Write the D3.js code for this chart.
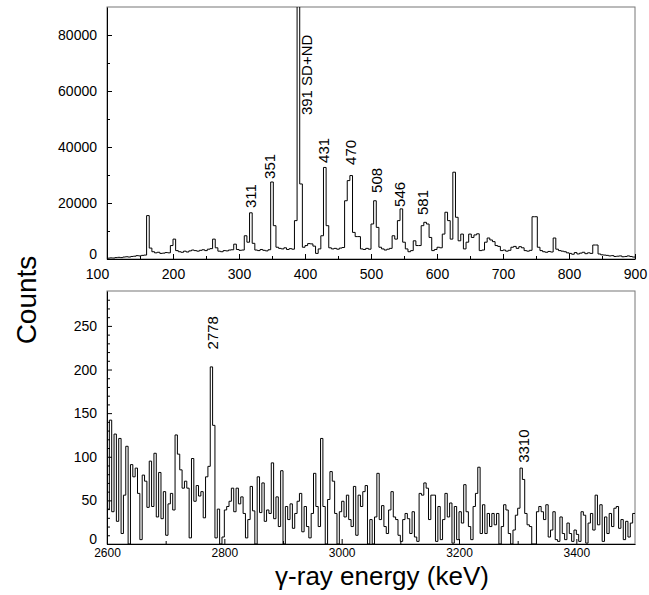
<!DOCTYPE html>
<html>
<head>
<meta charset="utf-8">
<script src="https://cdn.jsdelivr.net/npm/d3@7"></script>
<style>
  body { margin: 0; background: #fff; }
  svg { display: block; font-family: "Liberation Sans", Arial, Helvetica, sans-serif; }
</style>
</head>
<body>
<div id="chart"></div>
<script>
// ---- data ----
// upper spectrum: 4 keV bins from 100 keV
const topStart = 100;
const topBin = 4;
const topCounts = [
  300, 400, 350, 500, 600, 500, 700, 800, 700, 900,
  1000, 1200, 1100, 1300, 1400, 15500, 3900, 2600, 2200, 2400,
  2000, 2100, 2300, 2200, 4800, 7100, 3000, 2600, 2400, 2800,
  2500, 2900, 3200, 3000, 2800, 3100, 3300, 3000, 3500, 3700,
  7100, 4000, 2800, 2600, 3000, 2900, 3200, 3300, 5300, 3400,
  3100, 3200, 8300, 6000, 16500, 5600, 3200, 3000, 3400, 3100,
  2900, 3300, 27500, 11900, 4200, 3800, 3600, 4000, 3400, 3700,
  3500, 13700, 150000, 26800, 4200, 4800, 5500, 5400, 4600, 2000,
  3600, 8300, 32700, 11900, 4000, 3600, 3800, 3500, 3900, 4100,
  20800, 28000, 29800, 9500, 8000, 8000, 3600, 3400, 3800, 3500,
  12500, 20800, 11300, 4200, 3600, 3200, 3500, 3800, 8300, 7100,
  13700, 17900, 6000, 3600, 2600, 3000, 6500, 4800, 4800, 11900,
  13100, 12500, 7700, 3000, 3400, 4200, 4000, 8900, 16700, 13700,
  7100, 31000, 14900, 6500, 8900, 3600, 6000, 8900, 7700, 8600,
  9000, 3000, 3200, 6000, 7500, 6800, 6200, 4800, 4500, 3000,
  3200, 2800, 3100, 4200, 4500, 3800, 4400, 4000, 3000, 2800,
  3100, 15100, 15100, 4200, 3000, 2600, 2400, 2700, 2500, 7500,
  3500, 3000, 2800, 2600, 2200, 2000, 1700, 2300, 1800, 2100,
  2400, 1900, 2200, 2000, 5000, 5000, 1800, 1500, 1400, 1300,
  1100, 1200, 900, 1000, 1100, 800, 900, 1100, 900, 700
];

// lower spectrum: 4 keV bins from 2600 keV
const botStart = 2600;
const botBin = 4;
const botCounts = [
  40, 142, 37, 126, 26, 121, 12, 56, 112, 0,
  91, 77, 87, 58, 5, 79, 72, 42, 95, 43,
  104, 31, 82, 29, 60, 10, 46, 58, 39, 125,
  103, 85, 64, 72, 64, 7, 98, 49, 67, 55,
  60, 30, 77, 89, 203, 136, 7, 40, 0, 8,
  39, 43, 49, 64, 37, 64, 46, 54, 35, 7,
  28, 66, 38, 0, 77, 36, 70, 26, 39, 35,
  93, 29, 54, 20, 84, 0, 43, 28, 46, 18,
  35, 49, 58, 14, 43, 20, 7, 35, 81, 43,
  20, 121, 43, 0, 51, 83, 72, 35, 0, 37,
  49, 31, 56, 28, 20, 66, 10, 56, 43, 60,
  67, 0, 28, 0, 31, 81, 28, 44, 20, 12,
  39, 60, 31, 28, 10, 3, 28, 35, 29, 12,
  37, 8, 3, 58, 56, 70, 64, 28, 56, 56,
  3, 43, 5, 28, 58, 31, 47, 1, 43, 5,
  37, 24, 68, 37, 20, 5, 43, 58, 88, 12,
  45, 12, 35, 20, 35, 22, 35, 0, 20, 45,
  39, 12, 0, 16, 33, 41, 87, 74, 35, 22,
  20, 0, 0, 37, 43, 37, 28, 45, 8, 16,
  37, 5, 3, 31, 12, 5, 24, 12, 3, 16,
  11, 3, 37, 33, 1, 24, 35, 16, 56, 22,
  45, 3, 31, 12, 35, 20, 41, 43, 18, 28,
  5, 26, 8, 24, 35
];

const topXTicks = [100, 200, 300, 400, 500, 600, 700, 800, 900];
const topYTicks = [0, 20000, 40000, 60000, 80000];
const botXTicks = [2600, 2800, 3000, 3200, 3400];
const botYTicks = [0, 50, 100, 150, 200, 250];

// peak labels: text, energy and count where the label starts
const topPeakText = ["311", "351", "391 SD+ND", "431", "470", "508", "546", "581"];
const topPeakE = [318, 347, 402, 428, 470, 508, 544, 578];
const topPeakC = [18200, 28600, 51400, 34300, 33600, 23600, 18600, 15700];
const botPeakText = ["2778", "3310"];
const botPeakE = [2780, 3310];
const botPeakC = [223, 93];

// ---- drawing ----
const W = 649, H = 595;
const left = 107, right = 635;

const svg = d3.select("#chart").append("svg")
  .attr("width", W)
  .attr("height", H);

function panel(cfg) {
  const x = d3.scaleLinear().domain(cfg.xDomain).range([left, right]);
  const y = d3.scaleLinear().domain(cfg.yDomain).range([cfg.bottom, cfg.top]);
  const g = svg.append("g");

  g.append("clipPath").attr("id", "clip-" + cfg.name)
    .append("rect")
    .attr("x", left).attr("y", cfg.top)
    .attr("width", right - left).attr("height", cfg.bottom - cfg.top);

  // frame
  g.append("rect")
    .attr("x", left).attr("y", cfg.top)
    .attr("width", right - left).attr("height", cfg.bottom - cfg.top)
    .attr("fill", "none")
    .attr("stroke", "#777")
    .attr("stroke-width", 1);

  // histogram as a step line
  const pts = cfg.counts.map((c, i) => [cfg.start + i * cfg.bin, c]);
  pts.push([cfg.start + cfg.counts.length * cfg.bin, cfg.counts[cfg.counts.length - 1]]);
  const line = d3.line()
    .x(d => x(d[0]))
    .y(d => y(d[1]))
    .curve(d3.curveStepAfter);
  g.append("path")
    .attr("clip-path", "url(#clip-" + cfg.name + ")")
    .attr("d", line(pts))
    .attr("fill", "none")
    .attr("stroke", "#000")
    .attr("stroke-width", 1);

  // minor ticks
  g.append("g")
    .attr("transform", "translate(0," + cfg.bottom + ")")
    .call(d3.axisBottom(x).tickValues(cfg.xMinor).tickSize(-3).tickFormat(""))
    .call(a => a.select(".domain").remove());
  g.append("g")
    .attr("transform", "translate(" + left + ",0)")
    .call(d3.axisLeft(y).tickValues(cfg.yMinor).tickSize(-3).tickFormat(""))
    .call(a => a.select(".domain").remove());

  // main axes
  const xa = g.append("g")
    .attr("transform", "translate(0," + cfg.bottom + ")")
    .call(d3.axisBottom(x).tickValues(cfg.xTicks).tickSizeInner(-5).tickSizeOuter(0)
      .tickPadding(cfg.xPad).tickFormat(d3.format("d")));
  xa.selectAll("text")
    .attr("font-size", cfg.xFont)
    .attr("font-family", "Liberation Sans, Arial, sans-serif")
    .attr("fill", "#000")
    .attr("dx", (d, i) => (cfg.name === "top" && i === 0) ? -10 : 0);

  const ya = g.append("g")
    .attr("transform", "translate(" + left + ",0)")
    .call(d3.axisLeft(y).tickValues(cfg.yTicks).tickSizeInner(-5).tickSizeOuter(0)
      .tickPadding(10).tickFormat(d3.format("d")));
  ya.selectAll("text")
    .attr("font-size", 14)
    .attr("font-family", "Liberation Sans, Arial, sans-serif")
    .attr("fill", "#000")
    .attr("dy", d => d === 0 ? "-0.05em" : "0.32em");

  g.selectAll(".domain").attr("stroke", "#000");
  g.selectAll(".tick line").attr("stroke", "#000");

  // peak labels
  g.selectAll("text.peak")
    .data(cfg.peakText)
    .join("text")
    .attr("class", "peak")
    .attr("transform", (d, i) => "translate(" + x(cfg.peakE[i]) + "," + y(cfg.peakC[i]) + ") rotate(-90)")
    .attr("dy", "0.35em")
    .attr("font-size", 15)
    .attr("fill", "#000")
    .text(d => d);
}

panel({
  name: "top",
  counts: topCounts, start: topStart, bin: topBin,
  xDomain: [100, 900], yDomain: [0, 90000],
  top: 7, bottom: 259,
  xTicks: topXTicks, yTicks: topYTicks,
  xMinor: d3.range(150, 900, 100), yMinor: d3.range(10000, 90000, 20000),
  xPad: 10, xFont: 14,
  peakText: topPeakText, peakE: topPeakE, peakC: topPeakC
});

panel({
  name: "bot",
  counts: botCounts, start: botStart, bin: botBin,
  xDomain: [2600, 3500], yDomain: [0, 290],
  top: 291, bottom: 544,
  xTicks: botXTicks, yTicks: botYTicks,
  xMinor: d3.range(2700, 3500, 200), yMinor: d3.range(10, 290, 10).filter(v => v % 50 !== 0),
  xPad: 4, xFont: 12,
  peakText: botPeakText, peakE: botPeakE, peakC: botPeakC
});

// axis titles
svg.append("text")
  .attr("transform", "translate(36,300) rotate(-90)")
  .attr("text-anchor", "middle")
  .attr("font-size", 28)
  .attr("fill", "#000")
  .text("Counts");

svg.append("text")
  .attr("x", 382)
  .attr("y", 585)
  .attr("text-anchor", "middle")
  .attr("font-size", 26)
  .attr("fill", "#000")
  .text("γ-ray energy (keV)");
</script>
</body>
</html>
